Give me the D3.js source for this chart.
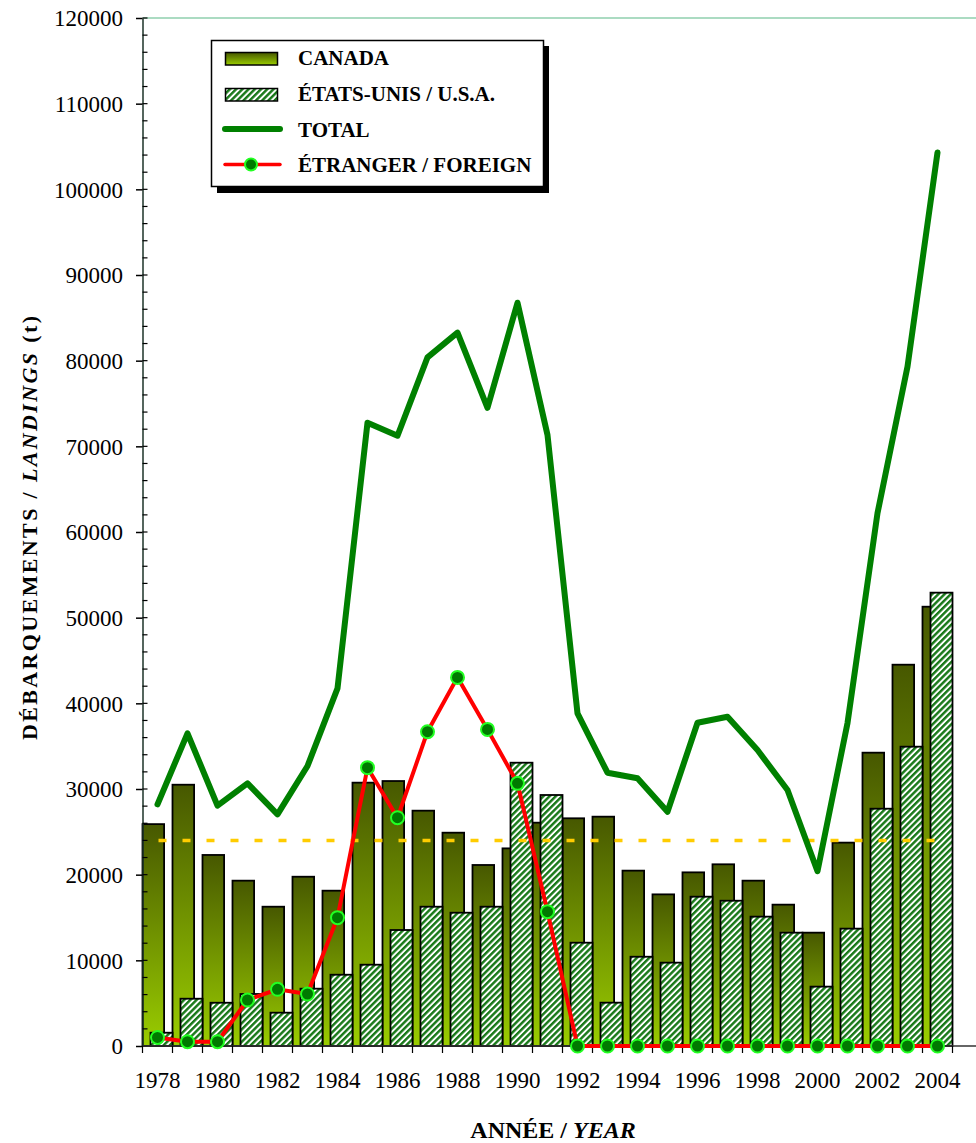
<!DOCTYPE html>
<html>
<head>
<meta charset="utf-8">
<script src="https://cdn.jsdelivr.net/npm/d3@7"></script>
<style>
  body { margin: 0; background: #fff; }
  svg { display: block; }
  text { font-family: "Liberation Serif", "Times New Roman", "DejaVu Serif", serif; fill: #000; }
</style>
</head>
<body>
<div id="chart"></div>
<script>
// data
const years = d3.range(1978, 2005);
const canada = [25900, 30500, 22300, 19300, 16260, 19760, 18130, 30740, 30930, 27470,
                24900, 21130, 23070, 26070, 26580, 26770, 20470, 17700, 20270, 21210,
                19300, 16500, 13230, 23740, 34240, 44510, 51280];
const usa = [1550, 5520, 5050, 6070, 3890, 6690, 8320, 9490, 13540, 16260,
             15560, 16260, 33070, 29300, 12060, 5060, 10420, 9730, 17430, 16960,
             15100, 13230, 6930, 13700, 27700, 34940, 52920];
const total = [28210, 36500, 28050, 30660, 27040, 32680, 41750, 72760, 71240, 80390,
               83270, 74500, 86760, 71320, 38830, 31900, 31250, 27350, 37740, 38440,
               34550, 29880, 20400, 37700, 62200, 79300, 104300];
const foreign = [1000, 500, 500, 5370, 6620, 6070, 14980, 32490, 26650, 36690,
                 43030, 36960, 30660, 15680, 0, 0, 0, 0, 0, 0,
                 0, 0, 0, 0, 0, 0, 0];
const average = 24000;
const yTicks = d3.range(0, 120001, 10000);
const yearLabels = years.filter(d => d % 2 === 0);

const width = 976, height = 1143;
const plotLeft = 142.5, plotTop = 18, plotBottom = 1046;

const svg = d3.select("#chart").append("svg")
    .attr("width", width)
    .attr("height", height);

const defs = svg.append("defs");
const grad = defs.append("linearGradient")
    .attr("id", "canGrad")
    .attr("x1", 0).attr("y1", 0).attr("x2", 0).attr("y2", 1);
grad.append("stop").attr("offset", "0%").attr("stop-color", "#475800");
grad.append("stop").attr("offset", "100%").attr("stop-color", "#9acd00");

const hatch = defs.append("pattern")
    .attr("id", "hatch")
    .attr("patternUnits", "userSpaceOnUse")
    .attr("width", 4.4).attr("height", 4.4)
    .attr("patternTransform", "rotate(45)");
hatch.append("rect").attr("width", 4.4).attr("height", 4.4).attr("fill", "#fff");
hatch.append("line")
    .attr("x1", 1.2).attr("y1", 0).attr("x2", 1.2).attr("y2", 4.4)
    .attr("stroke", "#187818").attr("stroke-width", 2.5);

// scales
const x = d3.scaleBand()
    .domain(years)
    .range([plotLeft, plotLeft + years.length * 30])
    .padding(0);

const y = d3.scaleLinear()
    .domain([0, 120000])
    .range([plotBottom, plotTop]);

const cx = d => x(d) + x.bandwidth() / 2;

// top frame line
svg.append("line")
    .attr("x1", plotLeft).attr("x2", width)
    .attr("y1", y(120000)).attr("y2", y(120000))
    .attr("stroke", "#8fcfae").attr("stroke-width", 1.5);

// bars
const barW = 21.6;
svg.append("g").selectAll("rect")
    .data(years)
    .join("rect")
    .attr("x", d => x(d))
    .attr("y", (d, i) => y(canada[i]))
    .attr("width", barW)
    .attr("height", (d, i) => y(0) - y(canada[i]))
    .attr("fill", "url(#canGrad)")
    .attr("stroke", "#000")
    .attr("stroke-width", 1.8);

svg.append("g").selectAll("rect")
    .data(years)
    .join("rect")
    .attr("x", d => x(d) + 8)
    .attr("y", (d, i) => y(usa[i]))
    .attr("width", 22)
    .attr("height", (d, i) => y(0) - y(usa[i]))
    .attr("fill", "url(#hatch)")
    .attr("stroke", "#000")
    .attr("stroke-width", 1.8);

// average dashed line
svg.append("line")
    .attr("x1", cx(1978) + 1).attr("x2", cx(2004))
    .attr("y1", y(average)).attr("y2", y(average))
    .attr("stroke", "#ffcc00").attr("stroke-width", 3.5)
    .attr("stroke-dasharray", "8 16");

// y axis
const yAxis = svg.append("g")
    .attr("transform", `translate(${plotLeft},0)`)
    .call(d3.axisLeft(y).tickValues(yTicks).tickFormat(d3.format("d"))
        .tickSizeInner(6.5).tickSizeOuter(0).tickPadding(13));
yAxis.select(".domain").attr("stroke", "#1d3328").attr("stroke-width", 1.5);
yAxis.selectAll(".tick line").attr("stroke", "#000").attr("stroke-width", 1.5);
yAxis.selectAll(".tick text")
    .attr("font-size", 23)
    .attr("dy", "0.34em");

svg.append("g").selectAll("line")
    .data(d3.range(0, 120001, 2000))
    .join("line")
    .attr("x1", plotLeft).attr("x2", plotLeft + 5)
    .attr("y1", d => y(d)).attr("y2", d => y(d))
    .attr("stroke", "#000").attr("stroke-width", 1.2);

// x axis
svg.append("line")
    .attr("x1", plotLeft).attr("x2", width)
    .attr("y1", plotBottom).attr("y2", plotBottom)
    .attr("stroke", "#333").attr("stroke-width", 1.5);

const edges = years.map(d => x(d)).concat([x(2004) + x.bandwidth()]);
svg.append("g").selectAll("line")
    .data(edges)
    .join("line")
    .attr("x1", d => d).attr("x2", d => d)
    .attr("y1", plotBottom).attr("y2", plotBottom + 7)
    .attr("stroke", "#000").attr("stroke-width", 1.2);

const xAxis = svg.append("g")
    .attr("transform", `translate(0,${plotBottom})`)
    .call(d3.axisBottom(x).tickValues(yearLabels).tickSize(0).tickPadding(26));
xAxis.select(".domain").remove();
xAxis.selectAll(".tick text")
    .attr("font-size", 23);

// total line
svg.append("path")
    .datum(total)
    .attr("fill", "none")
    .attr("stroke", "#008000")
    .attr("stroke-width", 6)
    .attr("stroke-linejoin", "round")
    .attr("stroke-linecap", "round")
    .attr("d", d3.line().x((d, i) => cx(years[i])).y(d => y(d)));

// foreign line + dots
svg.append("path")
    .datum(foreign)
    .attr("fill", "none")
    .attr("stroke", "#ff0000")
    .attr("stroke-width", 4)
    .attr("d", d3.line().x((d, i) => cx(years[i])).y(d => y(d)));

svg.append("g").selectAll("circle")
    .data(foreign)
    .join("circle")
    .attr("cx", (d, i) => cx(years[i]))
    .attr("cy", d => y(d))
    .attr("r", 6.5)
    .attr("fill", "#007a00")
    .attr("stroke", "#22ff22")
    .attr("stroke-width", 2);

// axis titles
svg.append("text")
    .attr("transform", "translate(37,528) rotate(-90)")
    .attr("text-anchor", "middle")
    .attr("font-size", 22)
    .attr("font-weight", "bold")
    .attr("textLength", 424)
    .attr("lengthAdjust", "spacing")
    .call(t => {
        t.append("tspan").text("DÉBARQUEMENTS / ");
        t.append("tspan").attr("font-style", "italic").text("LANDINGS");
        t.append("tspan").text(" (t)");
    });

svg.append("text")
    .attr("x", 553).attr("y", 1138)
    .attr("text-anchor", "middle")
    .attr("font-size", 24)
    .attr("font-weight", "bold")
    .call(t => {
        t.append("tspan").text("ANNÉE / ");
        t.append("tspan").attr("font-style", "italic").text("YEAR");
    });

// legend
const lg = svg.append("g");
lg.append("rect")
    .attr("x", 217).attr("y", 46).attr("width", 332).attr("height", 147)
    .attr("fill", "#000");
lg.append("rect")
    .attr("x", 211.5).attr("y", 40.5).attr("width", 332).attr("height", 146)
    .attr("fill", "#fff").attr("stroke", "#000").attr("stroke-width", 1.5);

lg.append("rect")
    .attr("x", 225.5).attr("y", 52.5).attr("width", 52).attr("height", 12.5)
    .attr("fill", "url(#canGrad)").attr("stroke", "#000").attr("stroke-width", 1.5);
lg.append("rect")
    .attr("x", 225.5).attr("y", 88.5).attr("width", 52).attr("height", 12.5)
    .attr("fill", "url(#hatch)").attr("stroke", "#000").attr("stroke-width", 1.5);
lg.append("line")
    .attr("x1", 225).attr("x2", 280).attr("y1", 129).attr("y2", 129)
    .attr("stroke", "#008000").attr("stroke-width", 6).attr("stroke-linecap", "round");
lg.append("line")
    .attr("x1", 225).attr("x2", 280).attr("y1", 164.5).attr("y2", 164.5)
    .attr("stroke", "#ff0000").attr("stroke-width", 3.5).attr("stroke-linecap", "round");
lg.append("circle")
    .attr("cx", 251).attr("cy", 164.5).attr("r", 6)
    .attr("fill", "#007a00").attr("stroke", "#22ff22").attr("stroke-width", 2);

const legendText = ["CANADA", "ÉTATS-UNIS / U.S.A.", "TOTAL", "ÉTRANGER / FOREIGN"];
const legendY = [64.5, 100.5, 136.5, 171.5];
lg.selectAll("text.lab")
    .data(legendText)
    .join("text")
    .attr("class", "lab")
    .attr("x", 298)
    .attr("y", (d, i) => legendY[i])
    .attr("font-size", 21)
    .attr("font-weight", "bold")
    .text(d => d);
</script>
</body>
</html>
